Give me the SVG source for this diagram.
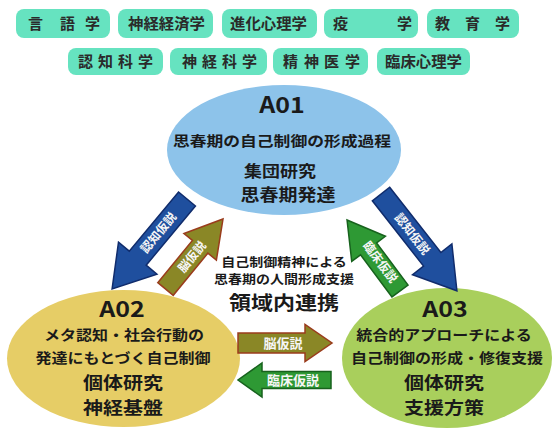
<svg xmlns="http://www.w3.org/2000/svg" width="552" height="432" viewBox="0 0 552 432">
<style>
text{font-family:"Noto Sans CJK JP","Noto Sans",sans-serif;font-weight:bold;fill:#1a1a1a}
.pill rect{fill:#66e3c0}
.pill text{font-size:15px;fill:#2a2a2a}
.t1{font-size:25px;text-anchor:middle}
.t2{font-size:16px;text-anchor:middle}
.t3{font-size:20px;text-anchor:middle}
.lab{fill:#f6f6f6;font-size:12px;text-anchor:middle}
.labh{fill:#f6f6f6;font-size:13px;text-anchor:middle}
.blue{fill:#1f4f9e;stroke:#102c6c;stroke-width:1.5}
.olive{fill:#8a8726;stroke:#9a3c1c;stroke-width:1.5}
.green{fill:#2e9934;stroke:#17621d;stroke-width:1.5}
</style>
<rect width="552" height="432" fill="#ffffff"/>
<g id="fields" class="pill">
<g id="f1"><rect x="16" y="9" width="94" height="29" rx="8"/><text x="28 60 85" y="29">言語学</text></g>
<g id="f2"><rect x="118" y="9" width="95" height="29" rx="8"/><text x="128" y="29" textLength="77" lengthAdjust="spacingAndGlyphs">神経経済学</text></g>
<g id="f3"><rect x="222" y="9" width="95" height="29" rx="8"/><text x="230" y="29" textLength="77" lengthAdjust="spacingAndGlyphs">進化心理学</text></g>
<g id="f4"><rect x="324" y="9" width="94" height="29" rx="8"/><text x="333 397" y="29">疫学</text></g>
<g id="f5"><rect x="427" y="9" width="92" height="29" rx="8"/><text x="435 465 495" y="29">教育学</text></g>
<g id="f6"><rect x="68" y="48" width="95" height="27" rx="8"/><text x="78 98 118 138" y="67">認知科学</text></g>
<g id="f7"><rect x="170" y="48" width="97" height="27" rx="8"/><text x="182 202 222 242" y="67">神経科学</text></g>
<g id="f8"><rect x="273" y="48" width="95" height="27" rx="8"/><text x="283 304 324 345" y="67">精神医学</text></g>
<g id="f9"><rect x="377" y="48" width="93" height="27" rx="8"/><text x="385" y="67" textLength="77" lengthAdjust="spacingAndGlyphs">臨床心理学</text></g>
</g>
<g id="A01">
<ellipse cx="284" cy="150" rx="117" ry="65" fill="#8dc3ea"/>
<text class="t1" transform="translate(282,113) scale(1,0.88)">A01</text>
<text class="t2" transform="translate(282,146) scale(1,0.88)" font-size="16.5" textLength="218" lengthAdjust="spacingAndGlyphs">思春期の自己制御の形成過程</text>
<text class="t3" transform="translate(280,177) scale(1,0.88)" style="font-size:18px">集団研究</text>
<text class="t3" transform="translate(288,201) scale(1,0.88)" style="font-size:19px">思春期発達</text>
</g>
<g id="A02">
<ellipse cx="123.5" cy="358.5" rx="116.5" ry="68.5" fill="#e6cd66"/>
<text class="t1" transform="translate(122,317) scale(1,0.85)">A02</text>
<text class="t2" transform="translate(124,340) scale(1,0.88)">メタ認知・社会行動の</text>
<text class="t2" transform="translate(123,363) scale(1,0.88)">発達にもとづく自己制御</text>
<text class="t3" transform="translate(123,389) scale(1,0.88)">個体研究</text>
<text class="t3" transform="translate(123,414) scale(1,0.88)">神経基盤</text>
</g>
<g id="A03">
<ellipse cx="447" cy="358" rx="105" ry="70" fill="#a9cf5c"/>
<text class="t1" transform="translate(445,317) scale(1,0.85)">A03</text>
<text class="t2" transform="translate(444,340) scale(1,0.88)">統合的アプローチによる</text>
<text class="t2" transform="translate(447,363) scale(1,0.88)">自己制御の形成・修復支援</text>
<text class="t3" transform="translate(444,389) scale(1,0.88)">個体研究</text>
<text class="t3" transform="translate(444,414) scale(1,0.88)">支援方策</text>
</g>
<g id="center">
<text transform="translate(284,267) scale(1,0.88)" style="font-size:14px;text-anchor:middle">自己制御精神による</text>
<text transform="translate(284,284) scale(1,0.88)" style="font-size:14px;text-anchor:middle">思春期の人間形成支援</text>
<text transform="translate(284,310) scale(1,0.88)" style="font-size:22px;text-anchor:middle">領域内連携</text>
</g>
<g id="connectors">
<path class="blue" transform="translate(187,199) rotate(129.8)" d="M0,-11 L77,-11 L77,-25 L117,0 L77,25 L77,11 L0,11 Z"/>
<text class="lab" transform="translate(158.5,233) rotate(-50.2)" dy="4">認知仮説</text>
<path class="olive" transform="translate(165.5,289) rotate(-50.6)" d="M0,-10 L54.6,-10 L54.6,-21 L90.6,0 L54.6,21 L54.6,10 L0,10 Z"/>
<text class="lab" transform="translate(192,257) rotate(-50.6)" dy="4">脳仮説</text>
<path class="blue" transform="translate(381,194) rotate(51.9)" d="M0,-11 L83,-11 L83,-25 L123,0 L83,25 L83,11 L0,11 Z"/>
<text class="lab" transform="translate(412,234) rotate(51.9)" dy="4">認知仮説</text>
<path class="green" transform="translate(400,291) rotate(-126.7)" d="M0,-10 L52.6,-10 L52.6,-21 L88.6,0 L52.6,21 L52.6,10 L0,10 Z"/>
<text class="lab" transform="translate(380,262) rotate(53.3)" dy="4">臨床仮説</text>
<path class="olive" d="M238,333 L305,333 L305,324.5 L332,343 L305,361.5 L305,353 L238,353 Z"/>
<text class="labh" x="283" y="347.5">脳仮説</text>
<path class="green" d="M331,371.5 L262,371.5 L262,363 L238,380 L262,397 L262,388.5 L331,388.5 Z"/>
<text class="labh" x="293" y="384.5">臨床仮説</text>
</g>
</svg>
